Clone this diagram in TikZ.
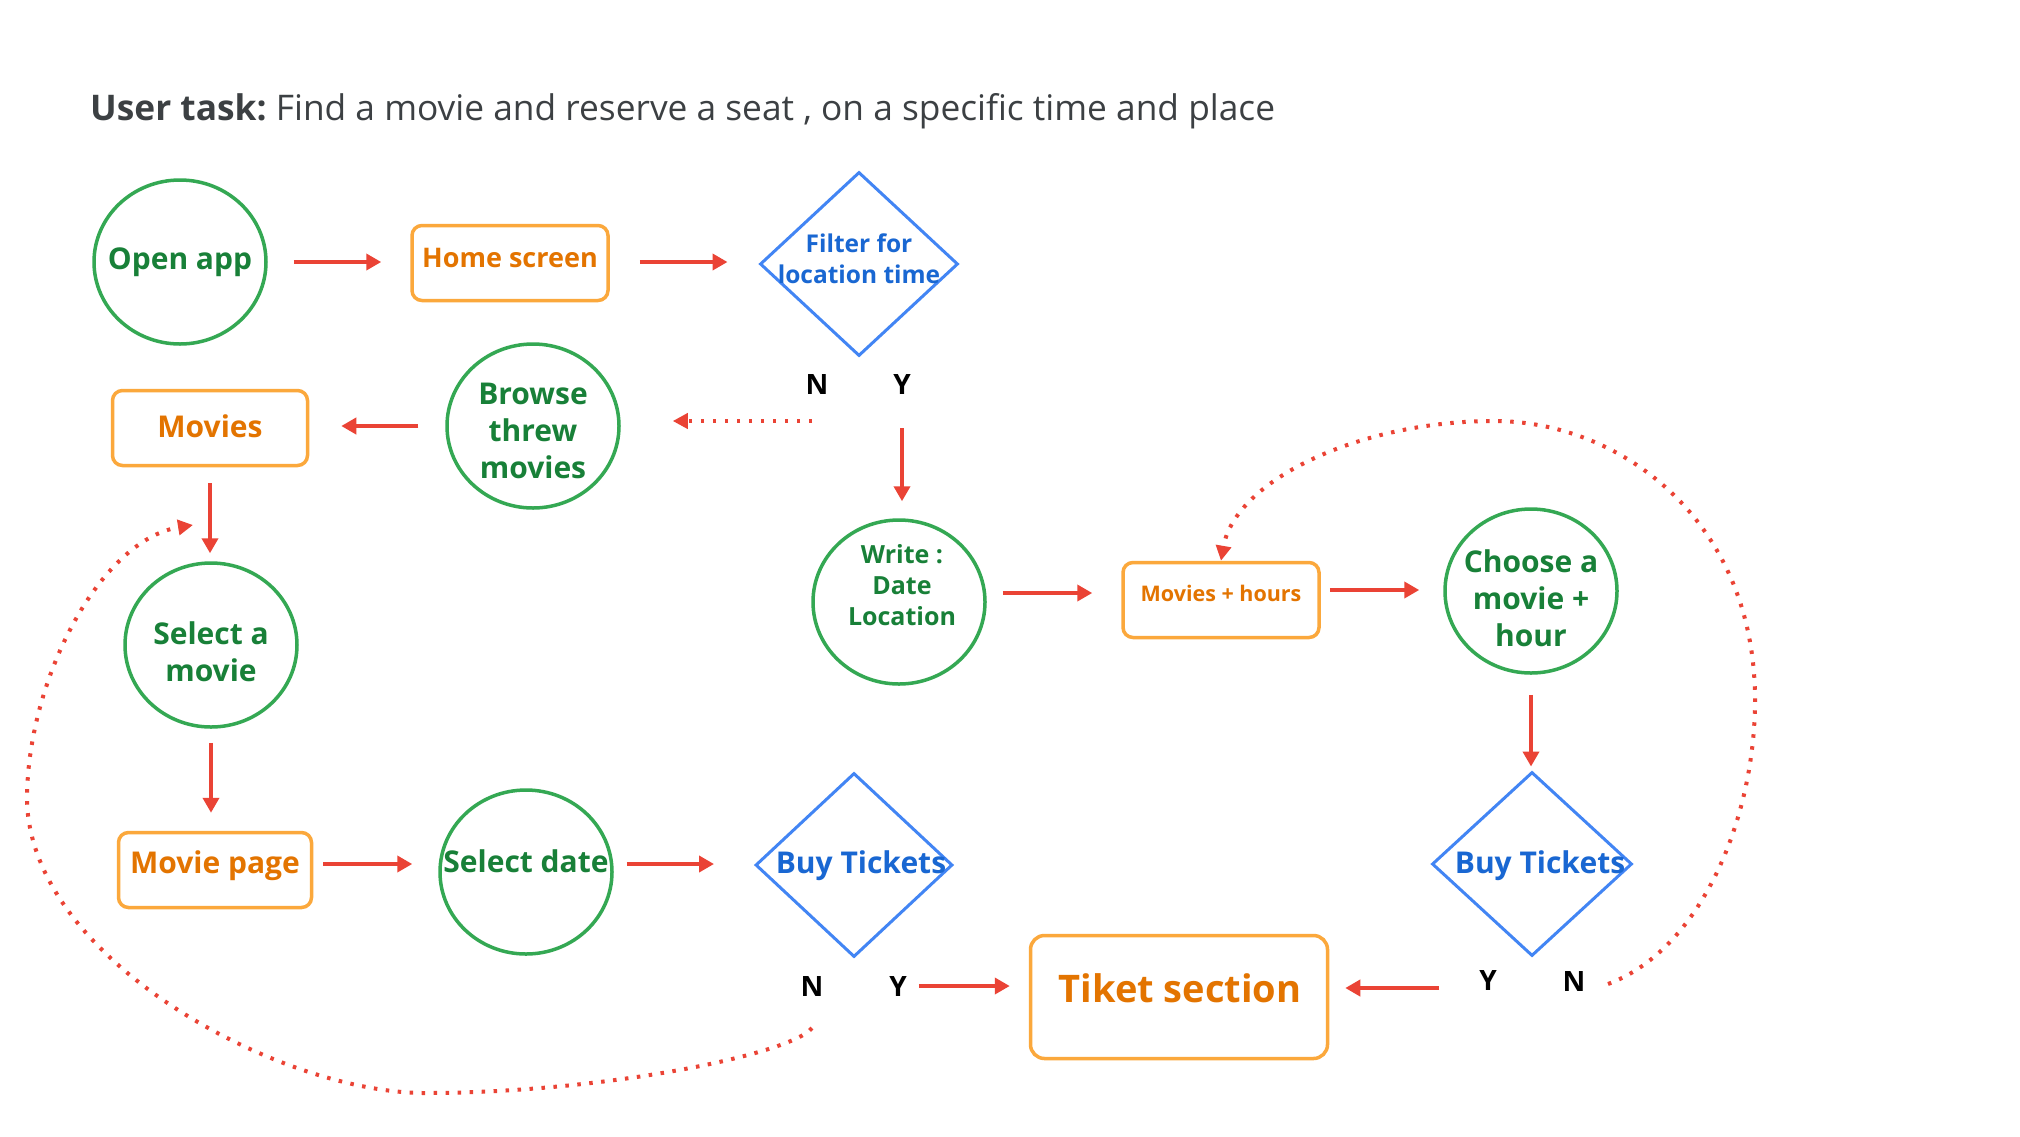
\documentclass[tikz,border=0pt]{standalone}
\usepackage{fontspec}
\setmainfont{Open Sans}
\usetikzlibrary{shapes.geometric,arrows.meta}
\definecolor{gstroke}{HTML}{34A853}
\definecolor{gtext}{HTML}{188038}
\definecolor{ostroke}{HTML}{FBA83C}
\definecolor{otext}{HTML}{E37400}
\definecolor{bstroke}{HTML}{4285F4}
\definecolor{btext}{HTML}{1967D2}
\definecolor{arrred}{HTML}{EA4335}
\definecolor{titlegray}{HTML}{3C4043}
\tikzset{
  circ/.style={ellipse, draw=gstroke, line width=3.5pt, minimum width=172pt, minimum height=164pt, inner sep=0pt},
  rbox/.style={rectangle, rounded corners=10pt, draw=ostroke, line width=3.5pt, inner sep=0pt},
  dia/.style={diamond, draw=bstroke, line width=3pt, minimum width=198pt, minimum height=184pt, inner sep=0pt},
  gtxt/.style={text=gtext, font=\fontsize{30}{37}\selectfont\bfseries, align=center, inner sep=0pt},
  otxt/.style={text=otext, font=\fontsize{30}{37}\selectfont\bfseries, align=center, inner sep=0pt},
  btxt/.style={text=btext, font=\fontsize{30}{37}\selectfont\bfseries, align=center, inner sep=0pt},
  yn/.style={text=black, font=\fontsize{28}{34}\selectfont\bfseries, inner sep=2pt},
  arr/.style={draw=arrred, line width=4pt, -{Triangle[length=15pt,width=16pt]}},
  dotarr/.style={draw=arrred, line width=4pt, dash pattern=on 3.5pt off 8.5pt, -{Triangle[length=15pt,width=15pt]}}
}
\begin{document}
\begin{tikzpicture}[x=1pt,y=-1pt]
\useasboundingbox[fill=white] (0,0) rectangle (2020,1136);

\node[anchor=west, text=titlegray, font=\fontsize{35.3}{40}\selectfont, inner sep=0pt] (title) at (90,111) {\textbf{User task:}\hspace{-3pt} Find a movie and reserve a seat , on a specific time and place};

% row 1
\node[circ] (open) at (180,262) {};
\node[gtxt] (openT) at (180,262) {Open app};
\node[rbox, minimum width=196pt, minimum height=75pt] (home) at (510,263) {};
\node[otxt, font=\fontsize{27}{33}\selectfont\bfseries] (homeT) at (510,258) {Home screen};
\node[dia] (filter) at (859,264) {};
\node[btxt, font=\fontsize{24.5}{31}\selectfont\bfseries] (filterT) at (859,259) {Filter for\\location time};
\node[yn] (fN) at (817,384) {N};
\node[yn] (fY) at (902,384) {Y};

% row 2
\node[circ] (browse) at (533,426) {};
\node[gtxt] (browseT) at (533,431) {Browse\\threw\\movies};
\node[rbox, minimum width=195pt, minimum height=75pt] (movies) at (210,428) {};
\node[otxt] (moviesT) at (210,426) {Movies};

\node[circ] (write) at (899,602) {};
\node[gtxt, font=\fontsize{25}{31}\selectfont\bfseries] (writeT) at (902,585) {Write :\\Date\\Location};
\node[rbox, minimum width=196pt, minimum height=75pt] (mh) at (1221,600) {};
\node[otxt, font=\fontsize{21.5}{26}\selectfont\bfseries] (mhT) at (1221,593) {Movies + hours};
\node[circ] (choose) at (1531,591) {};
\node[gtxt] (chooseT) at (1531,598) {Choose a\\movie +\\hour};

% left column
\node[circ] (selmovie) at (211,645) {};
\node[gtxt] (selmovieT) at (211,652) {Select a\\movie};
\node[rbox, minimum width=193pt, minimum height=75pt] (mpage) at (215,870) {};
\node[otxt] (mpageT) at (215,866) {Movie page};
\node[circ] (seldate) at (526,872) {};
\node[gtxt] (seldateT) at (526,861) {Select date};
\node[dia, minimum width=197pt] (buy1) at (854,865) {};
\node[btxt] (buy1T) at (861,866) {Buy Tickets};
\node[yn] (b1N) at (812,986) {N};
\node[yn] (b1Y) at (898,986) {Y};

\node[rbox, minimum width=297pt, minimum height=123pt, rounded corners=14pt] (tiket) at (1179,997) {};
\node[otxt, font=\fontsize{38}{44}\selectfont\bfseries] (tiketT) at (1180,988) {Tiket section};

\node[dia, minimum width=200pt] (buy2) at (1532,864) {};
\node[btxt] (buy2T) at (1540,866) {Buy Tickets};
\node[yn] (b2Y) at (1488,980) {Y};
\node[yn] (b2N) at (1574,981) {N};

% connectors
\draw[arr, shorten <=26pt, shorten >=29pt] (open.east) -- (open.east -| home.west);
\draw[arr, shorten <=30pt, shorten >=31pt] ([yshift=1pt]home.east) -- ([yshift=1pt]home.east -| filter.west);
\coordinate (fNs) at (812,421);
\draw[dotarr, shorten >=52pt] (fNs) -- (fNs -| browse.east);
\draw[arr, shorten <=32pt, shorten >=17pt] (fY.south) -- (fY.south |- write.north);
\draw[arr, shorten <=27pt, shorten >=32pt] (browse.west) -- (browse.west -| movies.east);
\draw[arr, shorten <=16pt, shorten >=8pt] (movies.south) -- (movies.south |- selmovie.north);
\draw[arr, shorten <=14pt, shorten >=18pt] (selmovie.south) -- (selmovie.south |- mpage.north);
\draw[arr, shorten <=10pt, shorten >=26pt] ([yshift=6pt]mpage.east) -- ([yshift=6pt]mpage.east -| seldate.west);
\draw[arr, shorten <=13pt, shorten >=40pt] ([yshift=8pt]seldate.east) -- ([yshift=8pt]seldate.east -| buy1.west);
\draw[arr, shorten <=10pt, shorten >=19pt] (b1Y.east) -- (b1Y.east -| tiket.west);
\draw[arr, shorten <=16pt, shorten >=29pt] ([yshift=9pt]write.east) -- ([yshift=9pt]write.east -| mh.west);
\draw[arr, shorten <=9pt, shorten >=24pt] ([yshift=10pt]mh.east) -- ([yshift=10pt]mh.east -| choose.west);
\draw[arr, shorten <=20pt, shorten >=4pt] (choose.south) -- (choose.south |- buy2.north);
\draw[arr, shorten <=38pt, shorten >=16pt] ([yshift=-8pt]b2Y.west) -- ([yshift=-8pt]b2Y.west -| tiket.east);

\coordinate (c1s) at (812,1028);
\coordinate (c1e) at (193,525);
\draw[dotarr] (c1s) .. controls (790,1055) and (600,1093) .. (425,1093)
  .. controls (280,1093) and (30,960) .. (27,800)
  .. controls (27,680) and (100,540) .. (c1e);
\coordinate (c2s) at (1608,984);
\draw[dotarr] (c2s) .. controls (1700,950) and (1755,820) .. (1755,700)
  .. controls (1755,520) and (1620,421) .. (1494,421)
  .. controls (1360,421) and (1235,480) .. (mh.north);
\end{tikzpicture}
\end{document}
